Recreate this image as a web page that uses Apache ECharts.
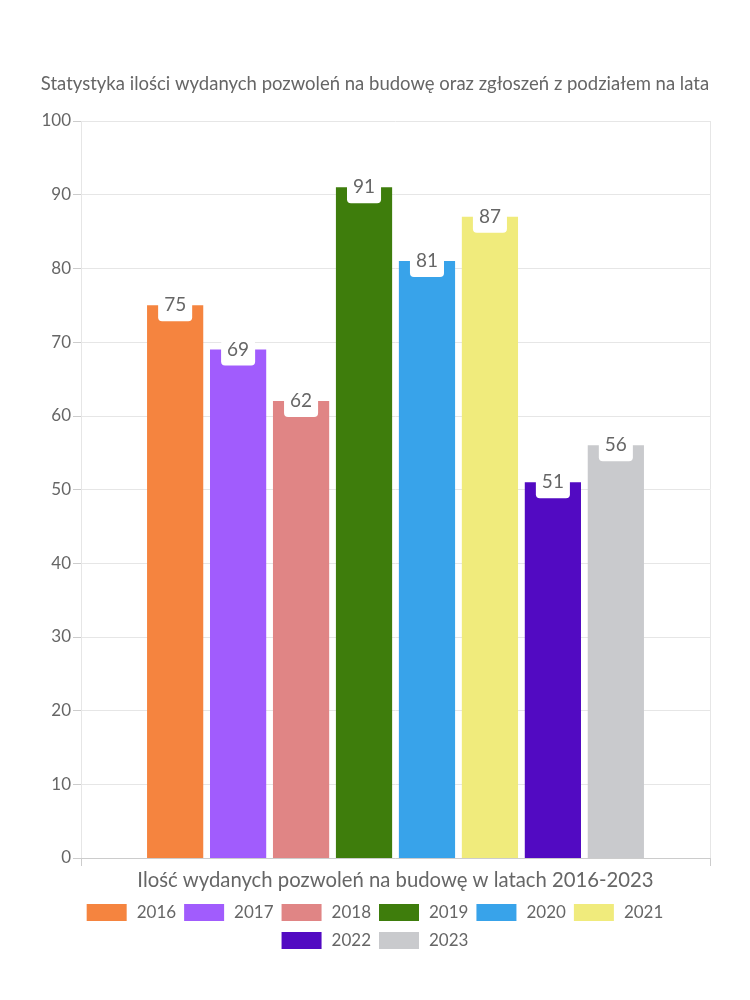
<!DOCTYPE html>
<html><head><meta charset="utf-8">
<script src="https://cdn.jsdelivr.net/npm/echarts@6/dist/echarts.min.js"></script>
<style>html,body{margin:0;padding:0;background:#fff}#c{width:750px;height:1000px}</style>
</head><body><div id="c"></div>
<script>
const titleText = 'Statystyka ilości wydanych pozwoleń na budowę oraz zgłoszeń z podziałem na lata';
const categories = ['Ilość wydanych pozwoleń na budowę w latach 2016-2023'];
const years = ['2016','2017','2018','2019','2020','2021','2022','2023'];
const values = [75, 69, 62, 91, 81, 87, 51, 56];
const colors = ['#f5843f','#a15cfd','#e08585','#3e7d0c','#38a3ea','#f0eb7c','#520ac2','#c9cacd'];
const FONT = 'Lato';
const legendBase = {left: 'center', itemWidth: 40, itemHeight: 17, itemGap: 8, icon: 'rect',
  textStyle: {fontFamily: FONT, fontSize: 17, color: '#666', padding: [0, 0, 0, 5]}};
const chart = echarts.init(document.getElementById('c'));
chart.setOption({
  animation: false,
  textStyle: {fontFamily: FONT},
  title: {text: titleText, left: 'center', top: 70, textStyle: {fontFamily: FONT, fontSize: 18.5, fontWeight: 'normal', color: '#666'}},
  grid: {left: 81, right: 40, top: 121, bottom: 142},
  legend: [
    Object.assign({}, legendBase, {top: 899, data: years.slice(0, 6)}),
    Object.assign({}, legendBase, {top: 927, data: years.slice(6)})
  ],
  xAxis: {type: 'category', data: categories,
    axisLine: {lineStyle: {color: '#ccc'}},
    axisTick: {show: true, length: 8, lineStyle: {color: '#ccc'}},
    splitLine: {show: true, lineStyle: {color: '#e6e6e6'}},
    axisLabel: {fontFamily: FONT, fontSize: 20.3, color: '#666', margin: 12}},
  yAxis: {type: 'value', min: 0, max: 100, interval: 10,
    axisLine: {show: false},
    axisTick: {show: true, length: 8, lineStyle: {color: '#ccc'}},
    splitLine: {lineStyle: {color: '#e6e6e6'}},
    axisLabel: {fontFamily: FONT, fontSize: 17, color: '#666', margin: 10}},
  series: years.map((y, i) => ({
    name: y, type: 'bar', data: [values[i]],
    itemStyle: {color: colors[i]},
    barGap: '12%', barCategoryGap: '21%',
    label: {show: true, position: 'insideTop', distance: 0, offset: [0, -10],
      fontFamily: FONT, fontSize: 19, color: '#666', lineHeight: 20,
      backgroundColor: '#fff', borderRadius: 4, padding: [0, 6, 6, 6]}
  }))
});
</script></body></html>
